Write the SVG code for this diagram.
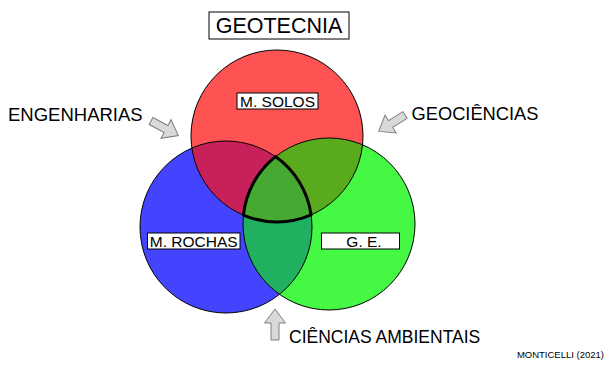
<svg xmlns="http://www.w3.org/2000/svg" width="612" height="365" viewBox="0 0 612 365">
<defs>
<style>
text{font-family:"Liberation Sans",Arial,sans-serif;fill:#000}
.lbl{fill:#fff;stroke:#000;stroke-width:1}
.arrow{fill:#d9d9d9;stroke:#7f7f7f;stroke-width:1;stroke-linejoin:miter}
.ring{fill:none;stroke:#000;stroke-width:1}
</style>
<clipPath id="cR"><circle cx="277" cy="136" r="86"/></clipPath>
<clipPath id="cB"><circle cx="226" cy="227" r="86"/></clipPath>
<clipPath id="cG"><circle cx="329" cy="224" r="86"/></clipPath>
<path id="arr" d="M0,-4 H17 V-10.5 L31,0 L17,10.5 V4 H0 Z"/>
</defs>

<g id="geotecnia">
<rect class="lbl" x="209" y="12" width="140" height="27"/>
<text x="279" y="33" font-size="21.5" text-anchor="middle">GEOTECNIA</text>
</g>

<g id="circles">
<circle id="rochas-fill" cx="226" cy="227" r="86" fill="#4444ff"/>
<circle id="solos-fill" cx="277" cy="136" r="86" fill="#ff5252"/>
<circle id="ge-fill" cx="329" cy="224" r="86" fill="#44f844"/>
<circle cx="277" cy="136" r="86" fill="#c8205a" clip-path="url(#cB)"/>
<circle cx="329" cy="224" r="86" fill="#5aaa1e" clip-path="url(#cR)"/>
<circle cx="329" cy="224" r="86" fill="#20b060" clip-path="url(#cB)"/>
<path d="M275.5,156.6 A86,86 0 0 0 243.4,215.2 A86,86 0 0 0 311.1,214.9 A86,86 0 0 0 275.5,156.6 Z" fill="#46aa32"/>
<circle class="ring" cx="226" cy="227" r="86"/>
<circle class="ring" cx="277" cy="136" r="86"/>
<circle class="ring" cx="329" cy="224" r="86"/>
<path d="M275.5,156.6 A86,86 0 0 0 243.4,215.2 A86,86 0 0 0 311.1,214.9 A86,86 0 0 0 275.5,156.6 Z" fill="none" stroke="#000" stroke-width="3" stroke-linejoin="round"/>
</g>

<g id="m-solos">
<rect class="lbl" x="237" y="93" width="81" height="16"/>
<text x="277.5" y="106.5" font-size="15.5" text-anchor="middle">M. SOLOS</text>
</g>
<g id="m-rochas">
<rect class="lbl" x="147.5" y="233" width="92.5" height="16"/>
<text x="193.7" y="246.5" font-size="15.5" text-anchor="middle">M. ROCHAS</text>
</g>
<g id="ge">
<rect class="lbl" x="321.5" y="233" width="78" height="16"/>
<text x="364" y="246.5" font-size="15.5" text-anchor="middle">G. E.</text>
</g>

<g id="engenharias">
<text x="8" y="121" font-size="18.5">ENGENHARIAS</text>
</g>
<g id="geociencias">
<text x="411.5" y="119.5" font-size="18.3">GEOCIÊNCIAS</text>
</g>
<g id="ciencias-ambientais">
<text x="289" y="343" font-size="17.5">CIÊNCIAS AMBIENTAIS</text>
</g>
<g id="credit">
<text x="604" y="358" font-size="9.5" text-anchor="end">MONTICELLI (2021)</text>
</g>

<g id="connectors">
<use href="#arr" class="arrow" transform="translate(151,121) rotate(28)"/>
<use href="#arr" class="arrow" transform="translate(405,115) rotate(148)"/>
<use href="#arr" class="arrow" transform="translate(275,340) rotate(-90)"/>
</g>
</svg>
